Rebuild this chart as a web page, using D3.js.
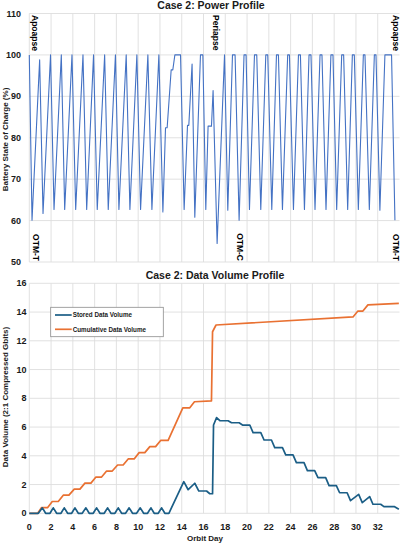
<!DOCTYPE html>
<html>
<head>
<meta charset="utf-8">
<script src="https://cdn.jsdelivr.net/npm/d3@7"></script>
<style>
  body { margin: 0; background: #fff; }
  svg { display: block; font-family: Arial, 'Liberation Sans', sans-serif; }
  .tick-label { font-size: 9px; font-weight: bold; fill: #1a1a1a; }
  .title { font-size: 10.5px; font-weight: bold; fill: #1a1a1a; }
  .axis-title { font-size: 8px; font-weight: bold; fill: #1a1a1a; }
  .note { font-size: 8.5px; font-weight: bold; fill: #000; }
  .legend-text { font-size: 6.3px; font-weight: bold; fill: #1a1a1a; }
</style>
</head>
<body>
<svg id="chart" width="400" height="543"></svg>
<script>
// battery state of charge
var powerDay = [0, 0.25, 0.95, 1.26, 1.95, 2.27, 2.94, 3.25, 3.92, 4.26, 4.93, 5.27, 5.90, 6.24,
  6.92, 7.25, 7.91, 8.23, 8.90, 9.24, 9.88, 10.22, 10.89, 11.26, 11.90, 12.27, 12.51, 12.66,
  13.03, 13.18, 13.37, 13.89, 14.22, 14.53, 14.65, 14.95, 15.20, 15.72, 15.94, 16.21, 16.42,
  16.73, 16.88, 17.25, 17.93, 18.23, 18.66, 18.90, 19.27, 19.72, 19.91, 20.22, 20.68, 20.89,
  21.26, 21.72, 21.90, 22.27, 22.70, 22.88, 23.25, 23.73, 23.89, 24.26, 24.72, 24.90, 25.27,
  25.69, 25.87, 26.24, 26.70, 26.88, 27.25, 27.70, 27.89, 28.23, 28.69, 28.87, 29.24, 29.67,
  29.85, 30.22, 30.68, 30.83, 31.23, 31.69, 31.84, 32.20, 32.66, 33.27, 33.58]
var powerSoc = [100, 60.1, 98.8, 61.7, 100, 62.7, 100, 62.7, 100, 62.7, 100, 62.7, 100, 62.7,
  100, 62.7, 100, 62.7, 100, 62.7, 100, 62.7, 100, 62.7, 100, 62.1, 82.4, 82.4,
  96.4, 96.4, 100, 100, 62.7, 83.0, 83.0, 97.8, 60.8, 100, 100, 62.7, 82.8,
  82.8, 91.4, 54.5, 100, 62.5, 100, 100, 60.1, 100, 100, 62.7, 100, 100,
  62.7, 100, 100, 62.7, 100, 100, 62.7, 100, 100, 62.7, 100, 100, 62.7,
  100, 100, 62.7, 100, 100, 62.7, 100, 100, 62.7, 100, 100, 62.7, 100,
  100, 62.7, 100, 100, 62.7, 100, 100, 62.5, 100, 100, 60.1]

// stored data volume (Gbits)
var storedDay = [0, 0.83, 1.20, 1.50, 1.90, 2.20, 2.51, 2.91, 3.21, 3.52, 3.89, 4.19, 4.50, 4.86,
  5.20, 5.50, 5.87, 6.18, 6.49, 6.88, 7.19, 7.50, 7.86, 8.17, 8.48, 8.84, 9.17, 9.48, 9.85,
  10.19, 10.50, 10.86, 11.17, 11.47, 11.84, 12.15, 12.45, 12.82, 14.19, 14.59, 15.20, 15.57,
  16.28, 16.58, 16.83, 16.92, 17.20, 17.50, 18.26, 18.57, 19.27, 19.58, 20.25, 20.55, 21.26,
  21.56, 22.24, 22.54, 23.25, 23.55, 24.22, 24.53, 25.23, 25.54, 26.21, 26.51, 27.22, 27.53,
  28.20, 28.50, 29.19, 29.50, 30.25, 30.58, 31.26, 31.56, 32.27, 32.57, 33.55, 33.94]
var storedVol = [0, 0, 0.38, 0, 0, 0.38, 0, 0, 0.38, 0, 0, 0.38, 0, 0,
  0.38, 0, 0, 0.38, 0, 0, 0.38, 0, 0, 0.38, 0, 0, 0.38, 0, 0,
  0.38, 0, 0, 0.38, 0, 0, 0.38, 0, 0, 2.2, 1.64, 2.09, 1.55,
  1.55, 1.36, 1.36, 6.14, 6.66, 6.44, 6.44, 6.3, 6.3, 6.14, 6.14, 5.61, 5.61,
  5.1, 5.1, 4.57, 4.57, 4.06, 4.06, 3.52, 3.52, 2.97, 2.97, 2.48, 2.48, 1.92,
  1.92, 1.43, 1.43, 0.88, 1.32, 0.74, 1.16, 0.63, 0.63, 0.46, 0.46, 0.28]

// cumulative data volume (Gbits)
var cumDay = [0, 0.77, 1.13, 1.69, 2.11, 2.66, 3.12, 3.64, 4.13, 4.65, 5.11, 5.66, 6.12, 6.64,
  7.10, 7.62, 8.11, 8.62, 9.08, 9.63, 10.09, 10.61, 11.07, 11.60, 12.08, 12.75, 14.10, 14.74,
  15.17, 16.73, 16.83, 17.15, 29.73, 30.18, 30.64, 31.10, 33.94]
var cumVol = [0, 0, 0.4, 0.4, 0.82, 0.82, 1.26, 1.26, 1.68, 1.68, 2.1, 2.1, 2.52, 2.52,
  2.94, 2.94, 3.36, 3.36, 3.78, 3.78, 4.22, 4.22, 4.64, 4.64, 5.08, 5.08, 7.34, 7.34,
  7.76, 7.82, 12.63, 13.1, 13.66, 14.07, 14.07, 14.5, 14.6]

var dayTicks = [0, 2, 4, 6, 8, 10, 12, 14, 16, 18, 20, 22, 24, 26, 28, 30, 32]
var socTicks = [50, 60, 70, 80, 90, 100, 110]
var volTicks = [0, 2, 4, 6, 8, 10, 12, 14, 16]

// orbit event labels on the power chart
var topNotes = [{ day: 0.1, text: 'Apoapse' }, { day: 16.7, text: 'Periapse' }, { day: 33.25, text: 'Apoapse' }]
var bottomNotes = [{ day: 0.2, text: 'OTM-T' }, { day: 18.9, text: 'OTM-C' }, { day: 33.3, text: 'OTM-T' }]

var legendItems = ['Stored Data Volume', 'Cumulative Data Volume']
var colors = { power: '#4472C4', stored: '#1B5E86', cum: '#E97132', grid: '#dedede' }

var svg = d3.select('#chart')

var x = d3.scaleLinear().domain([0, 34]).range([29.3, 399.5])
var ySoc = d3.scaleLinear().domain([50, 110]).range([262, 13.5])
var yVol = d3.scaleLinear().domain([0, 16]).range([513.3, 283.3])

function zip(xs, ys) {
  return xs.map(function (d, i) { return [d, ys[i]] })
}

function drawGrid(y, ticks) {
  var g = svg.append('g')
  var r = y.range()
  g.selectAll('.v')
    .data(dayTicks)
    .enter()
    .append('line')
    .attr('x1', function (d) { return x(d) })
    .attr('x2', function (d) { return x(d) })
    .attr('y1', r[0])
    .attr('y2', r[1])
    .attr('stroke', colors.grid)
    .attr('stroke-width', 0.9)
  g.selectAll('.h')
    .data(ticks)
    .enter()
    .append('line')
    .attr('x1', x.range()[0])
    .attr('x2', x.range()[1])
    .attr('y1', function (d) { return y(d) })
    .attr('y2', function (d) { return y(d) })
    .attr('stroke', colors.grid)
    .attr('stroke-width', 0.9)
}

function drawYLabels(y, ticks, right) {
  svg.append('g')
    .selectAll('text')
    .data(ticks)
    .enter()
    .append('text')
    .attr('class', 'tick-label')
    .attr('x', right)
    .attr('y', function (d) { return y(d) })
    .attr('dy', '0.35em')
    .attr('text-anchor', 'end')
    .text(function (d) { return d })
}

// ---- power profile ----
drawGrid(ySoc, socTicks)
drawYLabels(ySoc, socTicks, 21)

var line = d3.line()
  .x(function (d) { return x(d[0]) })
  .y(function (d) { return ySoc(d[1]) })

svg.append('path')
  .datum(zip(powerDay, powerSoc))
  .attr('d', line)
  .attr('fill', 'none')
  .attr('stroke', colors.power)
  .attr('stroke-width', 1.1)
  .attr('stroke-linejoin', 'round')

svg.selectAll('.top-note')
  .data(topNotes)
  .enter()
  .append('text')
  .attr('class', 'note')
  .attr('transform', function (d) { return 'translate(' + (x(d.day) + 0.8) + ',' + 15 + ') rotate(90)' })
  .attr('text-anchor', 'start')
  .attr('dy', '-0.08em')
  .text(function (d) { return d.text })

svg.selectAll('.bottom-note')
  .data(bottomNotes)
  .enter()
  .append('text')
  .attr('class', 'note')
  .attr('transform', function (d) { return 'translate(' + (x(d.day) + 0.8) + ',' + 261 + ') rotate(90)' })
  .attr('text-anchor', 'end')
  .attr('dy', '-0.08em')
  .text(function (d) { return d.text })

svg.append('text')
  .attr('class', 'title')
  .attr('x', 211)
  .attr('y', 9)
  .attr('text-anchor', 'middle')
  .text('Case 2: Power Profile')

svg.append('text')
  .attr('class', 'axis-title')
  .attr('transform', 'translate(7.5,139.5) rotate(-90)')
  .attr('text-anchor', 'middle')
  .text('Battery State of Charge (%)')

// ---- data volume profile ----
drawGrid(yVol, volTicks)
drawYLabels(yVol, volTicks, 26.5)

svg.append('g')
  .selectAll('text')
  .data(dayTicks)
  .enter()
  .append('text')
  .attr('class', 'tick-label')
  .attr('x', function (d) { return x(d) })
  .attr('y', 529.5)
  .attr('text-anchor', 'middle')
  .text(function (d) { return d })

var volLine = d3.line()
  .x(function (d) { return x(d[0]) })
  .y(function (d) { return yVol(d[1]) })

svg.append('path')
  .datum(zip(cumDay, cumVol))
  .attr('d', volLine)
  .attr('fill', 'none')
  .attr('stroke', colors.cum)
  .attr('stroke-width', 1.7)
  .attr('stroke-linejoin', 'round')

svg.append('path')
  .datum(zip(storedDay, storedVol))
  .attr('d', volLine)
  .attr('fill', 'none')
  .attr('stroke', colors.stored)
  .attr('stroke-width', 1.7)
  .attr('stroke-linejoin', 'round')

svg.append('text')
  .attr('class', 'title')
  .attr('x', 215)
  .attr('y', 278.5)
  .attr('text-anchor', 'middle')
  .text('Case 2: Data Volume Profile')

svg.append('text')
  .attr('class', 'axis-title')
  .attr('transform', 'translate(7.5,397) rotate(-90)')
  .attr('text-anchor', 'middle')
  .text('Data Volume (2:1 Compressed Gbits)')

svg.append('text')
  .attr('class', 'axis-title')
  .attr('x', 205)
  .attr('y', 540.5)
  .attr('text-anchor', 'middle')
  .text('Orbit Day')

// legend
var legend = svg.append('g').attr('transform', 'translate(50.7,307.3)')
legend.append('rect')
  .attr('width', 112.6)
  .attr('height', 29.4)
  .attr('fill', '#fff')
  .attr('stroke', '#8c8c8c')
  .attr('stroke-width', 0.8)
var rows = legend.selectAll('.row')
  .data(legendItems)
  .enter()
  .append('g')
  .attr('transform', function (d, i) { return 'translate(0,' + (7.7 + i * 14.3) + ')' })
rows.append('line')
  .attr('x1', 4.3)
  .attr('x2', 21)
  .attr('stroke', function (d, i) { return i == 0 ? colors.stored : colors.cum })
  .attr('stroke-width', 1.7)
rows.append('text')
  .attr('class', 'legend-text')
  .attr('x', 22)
  .attr('dy', '0.35em')
  .text(function (d) { return d })
</script>
</body>
</html>
